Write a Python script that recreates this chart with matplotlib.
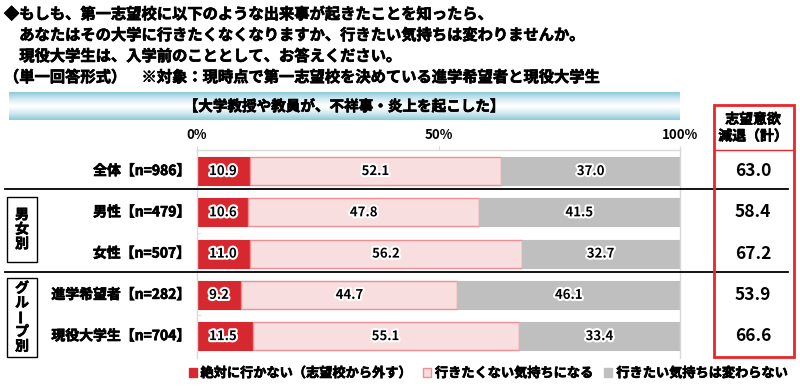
import numpy as np
import matplotlib.pyplot as plt
import matplotlib.patheffects as pe
from matplotlib.colors import LinearSegmentedColormap
from matplotlib.patches import Rectangle
from matplotlib.lines import Line2D

plt.rcParams['font.family'] = ['Noto Sans CJK JP', 'DejaVu Sans']
plt.rcParams['font.weight'] = 'bold'

# data
labels = ['全体【n=986】', '男性【n=479】', '女性【n=507】', '進学希望者【n=282】', '現役大学生【n=704】']
never = [10.9, 10.6, 11.0, 9.2, 11.5]
not_want = [52.1, 47.8, 56.2, 44.7, 55.1]
no_change = [37.0, 41.5, 32.7, 46.1, 33.4]
total = [63.0, 58.4, 67.2, 53.9, 66.6]
series_names = ['絶対に行かない（志望校から外す）', '行きたくない気持ちになる', '行きたい気持ちは変わらない']
group_names = ['男女別', 'グループ別']

title_lines = ['◆もしも、第一志望校に以下のような出来事が起きたことを知ったら、',
               '　あなたはその大学に行きたくなくなりますか、行きたい気持ちは変わりませんか。',
               '　現役大学生は、入学前のこととして、お答えください。',
               '（単一回答形式）　※対象：現時点で第一志望校を決めている進学希望者と現役大学生']
band_title = '【大学教授や教員が、不祥事・炎上を起こした】'
box_title = '志望意欲\n減退（計）'

W, H = 800, 387
fig = plt.figure(figsize=(W / 100, H / 100), dpi=100)

thick = [pe.withStroke(linewidth=0.5, foreground='black')]
glow = [pe.withStroke(linewidth=3, foreground='white')]


def fx(px):
    return px / W


def fy(py):
    return 1 - py / H


# title
for i, line in enumerate(title_lines):
    fig.text(fx(4), fy(14 + 21 * i), line, fontsize=11, va='center', ha='left', path_effects=thick)

# gradient band
band = fig.add_axes([fx(9), fy(120), fx(680 - 9), (120 - 92) / H])
grad = np.abs(np.linspace(-1, 1, 64))[:, None] ** 1.3
band.imshow(grad, aspect='auto', cmap=LinearSegmentedColormap.from_list('b', ['#ffffff', '#8ECBDB']),
            extent=[0, 1, 0, 1])
band.set_axis_off()
band.text(0.5, 0.5, band_title, ha='center', va='center', fontsize=10.5, path_effects=thick)

# main axes
ax = fig.add_axes([fx(197), fy(358), fx(680 - 197), (358 - 150) / H])
y = np.arange(len(labels))
h = 0.68
c1, c2, c3 = '#D7282F', '#F8DEDF', '#BFBFBF'
ax.barh(y, never, height=h, color=c1, edgecolor=c1, linewidth=0.8)
ax.barh(y, not_want, left=never, height=h, color=c2, edgecolor='#EE8F94', linewidth=1)
left3 = np.array(never) + np.array(not_want)
ax.barh(y, no_change, left=left3, height=h, color=c3, edgecolor=c3, linewidth=0.8)

for i in range(len(labels)):
    ax.text(2.5, y[i], f'{never[i]:.1f}', ha='left', va='center', fontsize=9.5, path_effects=glow)
    ax.text(never[i] + not_want[i] / 2, y[i], f'{not_want[i]:.1f}', ha='center', va='center',
            fontsize=9.5, path_effects=glow)
    ax.text(left3[i] + no_change[i] / 2, y[i], f'{no_change[i]:.1f}', ha='center', va='center',
            fontsize=9.5, path_effects=glow)
    ax.text(-1.4, y[i], labels[i], ha='right', va='center', fontsize=10, path_effects=thick)

ax.set_xlim(0, 100)
ax.set_ylim(4.53, -0.51)
ax.set_yticks([])
ax.set_xticks([0, 50, 100])
ax.set_xticklabels(['0%', '50%', '100%'], fontsize=9.5)
ax.xaxis.tick_top()
ax.tick_params(axis='x', length=3, color='#D9D9D9', pad=3)
for s in ax.spines.values():
    s.set_color('#D9D9D9')
    s.set_linewidth(1)
ax.spines['bottom'].set_visible(False)
ax.set_yticks([1.5, 3.5], minor=True)
ax.tick_params(axis='y', which='minor', length=3, color='#D9D9D9', direction='in')

# separators
for py in [189, 272]:
    fig.add_artist(Line2D([fx(5), fx(788)], [fy(py), fy(py)], color='black', lw=1.3))

# group boxes, vertical text (long vowel mark rotated)
for (top, bot), name in zip([(197, 262), (278, 357)], group_names):
    fig.add_artist(Rectangle((fx(7), fy(bot)), fx(30), (bot - top) / H, fill=False,
                             edgecolor='black', lw=1))
    n = len(name)
    step = 14.5
    for k, ch in enumerate(name):
        fig.text(fx(22), fy((top + bot) / 2 + (k - (n - 1) / 2) * step), ch, ha='center',
                 va='center', fontsize=10, rotation=90 if ch == 'ー' else 0,
                 path_effects=thick)

# red total box
fig.add_artist(Rectangle((fx(714), fy(357)), fx(80), (357 - 105) / H, fill=False,
                         edgecolor='#E8262B', lw=2, zorder=5))
fig.add_artist(Line2D([fx(714), fx(794)], [fy(150), fy(150)], color='#E8262B', lw=1))
fig.text(fx(753), fy(128), box_title, ha='center', va='center', fontsize=10, linespacing=1.25,
         path_effects=thick)
for i in range(len(total)):
    fig.text(fx(753), ax.transData.transform((0, y[i]))[1] / H, f'{total[i]:.1f}',
             ha='center', va='center', fontsize=12.5)

# legend
handles = [Rectangle((0, 0), 1, 1, facecolor=c1, edgecolor=c1),
           Rectangle((0, 0), 1, 1, facecolor=c2, edgecolor='#EE8F94'),
           Rectangle((0, 0), 1, 1, facecolor=c3, edgecolor=c3)]
leg = fig.legend(handles, series_names, loc='center left', bbox_to_anchor=(fx(182), fy(373)), ncol=3,
                 frameon=False, fontsize=9.5, handlelength=0.6, handleheight=0.6, handletextpad=0.3,
                 columnspacing=0.8, borderpad=0)
for t in leg.get_texts():
    t.set_path_effects(thick)

fig.savefig('out.png', dpi=100)
